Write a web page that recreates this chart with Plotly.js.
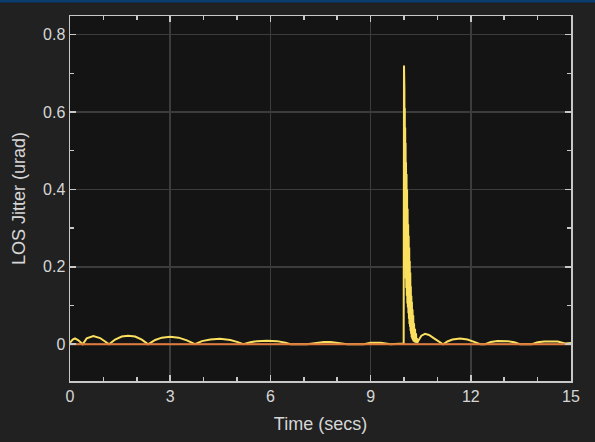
<!DOCTYPE html>
<html>
<head>
<meta charset="utf-8">
<script src="https://cdn.plot.ly/plotly-3.0.1.min.js"></script>
<style>html,body{margin:0;padding:0;background:#212121;}#chart{width:595px;height:442px;}</style>
</head>
<body>
<div id="chart"></div>
<script>
// LOS jitter (yellow)
const jitterTime = [
  0, 0.08, 0.15, 0.25, 0.38, 0.5, 0.7, 0.9, 1.05, 1.17, 1.35, 1.55, 1.74, 1.95, 2.15, 2.34,
  2.55, 2.75, 3.0, 3.25, 3.5, 3.74, 3.95, 4.2, 4.49, 4.8, 5.0, 5.19, 5.4, 5.6, 5.9, 6.2, 6.45, 6.6,
  7.1, 7.3, 7.6, 7.8, 8.1, 8.3, 8.8, 9.0, 9.3, 9.6, 9.99,
  10.0, 10.006, 10.012, 10.018, 10.024, 10.03, 10.036, 10.042, 10.048, 10.054, 10.06,
  10.068, 10.076, 10.084, 10.092, 10.1, 10.108, 10.116, 10.124, 10.132, 10.14, 10.148,
  10.156, 10.164, 10.172, 10.18, 10.188, 10.196, 10.204, 10.212, 10.22, 10.228, 10.236,
  10.246, 10.256, 10.266, 10.276, 10.288, 10.3, 10.315, 10.33, 10.345, 10.36, 10.375, 10.385, 10.395,
  10.45, 10.52, 10.63, 10.75, 10.9, 11.05, 11.17,
  11.3, 11.45, 11.68, 11.9, 12.1, 12.28, 12.43, 12.6, 12.8, 13.1, 13.3, 13.47,
  13.83, 14.0, 14.2, 14.6, 14.82, 15.0
];
const jitterValue = [
  0.004, 0.012, 0.015, 0.01, 0.0, 0.015, 0.021, 0.016, 0.007, 0.0, 0.012, 0.02, 0.022, 0.02, 0.012, 0.0,
  0.011, 0.017, 0.019, 0.017, 0.01, 0.0, 0.008, 0.012, 0.014, 0.011, 0.006, 0.0, 0.005, 0.008, 0.009, 0.008, 0.004, 0.0,
  0.0, 0.003, 0.006, 0.006, 0.003, 0.0, 0.0, 0.004, 0.004, 0.0, 0.002,
  0.72, 0.42, 0.66, 0.36, 0.61, 0.26, 0.56, 0.21, 0.52, 0.17, 0.47,
  0.145, 0.44, 0.125, 0.40, 0.105, 0.35, 0.095, 0.31, 0.08, 0.28, 0.066,
  0.25, 0.052, 0.215, 0.045, 0.185, 0.035, 0.15, 0.027, 0.125, 0.018, 0.11,
  0.014, 0.09, 0.01, 0.075, 0.007, 0.054, 0.005, 0.04, 0.004, 0.028, 0.003, 0.016, 0.004,
  0.012, 0.022, 0.027, 0.024, 0.015, 0.006, 0.0,
  0.007, 0.012, 0.015, 0.012, 0.006, 0.0, 0.0, 0.006, 0.0085, 0.008, 0.005, 0.0,
  0.0, 0.005, 0.007, 0.007, 0.002, 0.003
];
// Reference level (orange)
const refTime = [0, 15];
const refValue = [0, 0];

const xTicks = [0, 3, 6, 9, 12, 15];
const yTicks = [0, 0.2, 0.4, 0.6, 0.8];
const xTitle = 'Time (secs)';
const yTitle = 'LOS Jitter (urad)';

const fontFam = 'Liberation Sans, Arial, sans-serif';
const axisCommon = {
  showline: true, linecolor: '#c8c8c8', linewidth: 1.5, mirror: 'allticks',
  ticks: 'inside', ticklen: 6, tickwidth: 1.5, tickcolor: '#c8c8c8',
  showgrid: true, gridcolor: '#3c3c3c', gridwidth: 1.5, zeroline: false,
  tickfont: {family: fontFam, size: 16, color: '#d6d6d6'}
};

const data = [
  {x: jitterTime, y: jitterValue, type: 'scatter', mode: 'lines',
   line: {color: '#fbe060', width: 2}, showlegend: false},
  {x: refTime, y: refValue, type: 'scatter', mode: 'lines',
   line: {color: '#e07a3c', width: 2}, hoverinfo: 'skip', showlegend: false}
];

const layout = {
  width: 595, height: 442,
  paper_bgcolor: '#212121', plot_bgcolor: '#141414',
  margin: {l: 70, r: 24, t: 16, b: 61},
  xaxis: Object.assign({}, axisCommon, {
    range: [0, 15], tickvals: xTicks, ticktext: xTicks.map(String),
    minor: {dtick: 1, ticks: 'inside', ticklen: 4, tickcolor: '#c8c8c8', showgrid: false},
    title: {text: xTitle, standoff: 13, font: {family: fontFam, size: 18, color: '#d6d6d6'}}
  }),
  yaxis: Object.assign({}, axisCommon, {
    range: [-0.095, 0.848], tickvals: yTicks, ticktext: ['0', '0.2', '0.4', '0.6', '0.8'],
    minor: {dtick: 0.1, tick0: 0, ticks: 'inside', ticklen: 4, tickcolor: '#c8c8c8', showgrid: false},
    title: {text: yTitle, standoff: 12, font: {family: fontFam, size: 18, color: '#d6d6d6'}}
  }),
  shapes: [{type: 'rect', xref: 'paper', yref: 'paper', x0: -0.2, x1: 1.1,
            y0: 1 + 13.5/365, y1: 1 + 16/365, fillcolor: '#0b3d6e', line: {width: 0}, layer: 'above'}]
};

Plotly.newPlot('chart', data, layout, {displayModeBar: false, staticPlot: true});
</script>
</body>
</html>
